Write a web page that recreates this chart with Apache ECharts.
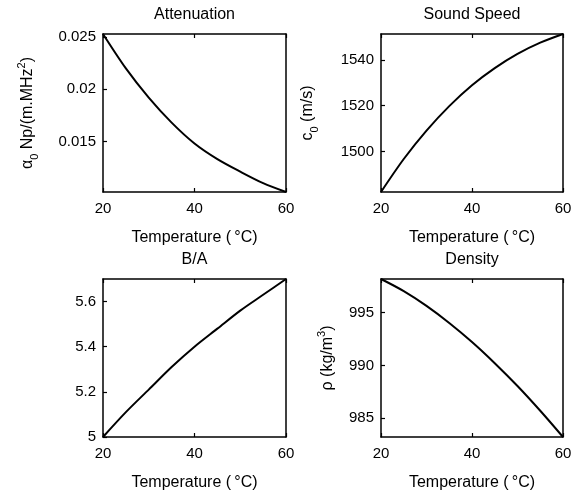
<!DOCTYPE html>
<html>
<head>
<meta charset="utf-8">
<script src="https://cdn.jsdelivr.net/npm/echarts@6/dist/echarts.min.js"></script>
<style>
html,body{margin:0;padding:0;background:#fff;}
#c{width:583px;height:492px;}
</style>
</head>
<body>
<div id="c"></div>
<script>
// ---- data ----
const temperature = [20, 25, 30, 35, 40, 45, 50, 55, 60];
const attenuation = [0.0253, 0.0220, 0.0192, 0.0168, 0.0148, 0.0133, 0.0121, 0.0110, 0.01015];
const soundSpeed = [1482.3, 1496.7, 1509.1, 1519.8, 1528.9, 1536.4, 1542.6, 1547.5, 1551.3];
const nonlinearityBA = [5.00, 5.11, 5.21, 5.31, 5.40, 5.48, 5.56, 5.63, 5.70];
const density = [998.2, 997.05, 995.65, 994.03, 992.22, 990.21, 988.04, 985.69, 983.2];

const xTicks = [20, 40, 60];
const attTicks = [0.015, 0.02, 0.025];
const speedTicks = [1500, 1520, 1540];
const baTicks = [5, 5.2, 5.4, 5.6];
const densTicks = [985, 990, 995];

const titles = ['Attenuation', 'Sound Speed', 'B/A', 'Density'];
const xName = 'Temperature (\u2009\u00b0C)';
const yNames = [
  '{t|\u03b1}{sub|0}{t| Np/(m.MHz}{sup|2}{t|)}',
  '{t|c}{sub|0}{t| (m/s)}',
  '',
  '{t|\u03c1 (kg/m}{sup|3}{t|)}'
];

// ---- layout ----
const FONT = 'Liberation Sans, Arial, sans-serif';
const grids = [
  {left: 103, top: 34, width: 183, height: 158},
  {left: 381, top: 34, width: 182, height: 158},
  {left: 103, top: 279, width: 183, height: 158},
  {left: 381, top: 279, width: 182, height: 158}
];
const yNameGaps = [63, 61, 0, 41];
const seriesData = [attenuation, soundSpeed, nonlinearityBA, density];
const yTickSets = [attTicks, speedTicks, baTicks, densTicks];

const lineStyle = {color: '#000', width: 1.5};
const tickStyle = {show: true, inside: true, length: 4, lineStyle: {color: '#000', width: 1.2}};
const rich = {
  t: {fontSize: 16, fontFamily: FONT, color: '#000', lineHeight: 24},
  sub: {fontSize: 11, fontFamily: FONT, color: '#000', verticalAlign: 'bottom', lineHeight: 24},
  sup: {fontSize: 11, fontFamily: FONT, color: '#000', verticalAlign: 'top', lineHeight: 24}
};
const plain = v => String(+v.toFixed(6));

const xAxis = [], yAxis = [], series = [];
grids.forEach((g, i) => {
  xAxis.push({
    type: 'value', gridIndex: i, min: 20, max: 60, interval: 20, position: 'bottom',
    name: xName, nameLocation: 'middle', nameGap: 38,
    nameTextStyle: {fontFamily: FONT, fontSize: 16, color: '#000'},
    axisLine: {show: true, onZero: false, lineStyle},
    axisTick: Object.assign({}, tickStyle, {customValues: xTicks}),
    axisLabel: {fontFamily: FONT, fontSize: 15, color: '#000', margin: 9, customValues: xTicks, formatter: plain},
    splitLine: {show: false}
  });
  xAxis.push({
    type: 'value', gridIndex: i, min: 20, max: 60, interval: 20, position: 'top',
    name: titles[i], nameLocation: 'middle', nameGap: 11,
    nameTextStyle: {fontFamily: FONT, fontSize: 16, color: '#000'},
    axisLine: {show: true, onZero: false, lineStyle},
    axisTick: Object.assign({}, tickStyle, {customValues: xTicks}),
    axisLabel: {show: false},
    splitLine: {show: false}
  });
  yAxis.push({
    type: 'value', gridIndex: i, min: 'dataMin', max: 'dataMax', position: 'left',
    name: yNames[i], nameLocation: 'middle', nameGap: yNameGaps[i], nameRotate: 90,
    nameTextStyle: {fontFamily: FONT, fontSize: 16, color: '#000', rich},
    axisLine: {show: true, onZero: false, lineStyle},
    axisTick: Object.assign({}, tickStyle, {customValues: yTickSets[i]}),
    axisLabel: {fontFamily: FONT, fontSize: 15, color: '#000', margin: 7, customValues: yTickSets[i], formatter: plain},
    splitLine: {show: false}
  });
  yAxis.push({
    type: 'value', gridIndex: i, min: 'dataMin', max: 'dataMax', position: 'right',
    axisLine: {show: true, onZero: false, lineStyle},
    axisTick: Object.assign({}, tickStyle, {customValues: yTickSets[i]}),
    axisLabel: {show: false},
    splitLine: {show: false}
  });
  series.push({
    type: 'line', xAxisIndex: 2 * i, yAxisIndex: 2 * i,
    data: temperature.map((t, k) => [t, seriesData[i][k]]),
    showSymbol: false, smooth: 0.3,
    lineStyle: {color: '#000', width: 2}, silent: true
  });
});

const chart = echarts.init(document.getElementById('c'), null, {renderer: 'canvas'});
chart.setOption({
  backgroundColor: '#fff',
  animation: false,
  grid: grids.map(g => Object.assign({containLabel: false}, g)),
  xAxis, yAxis, series
});
</script>
</body>
</html>
